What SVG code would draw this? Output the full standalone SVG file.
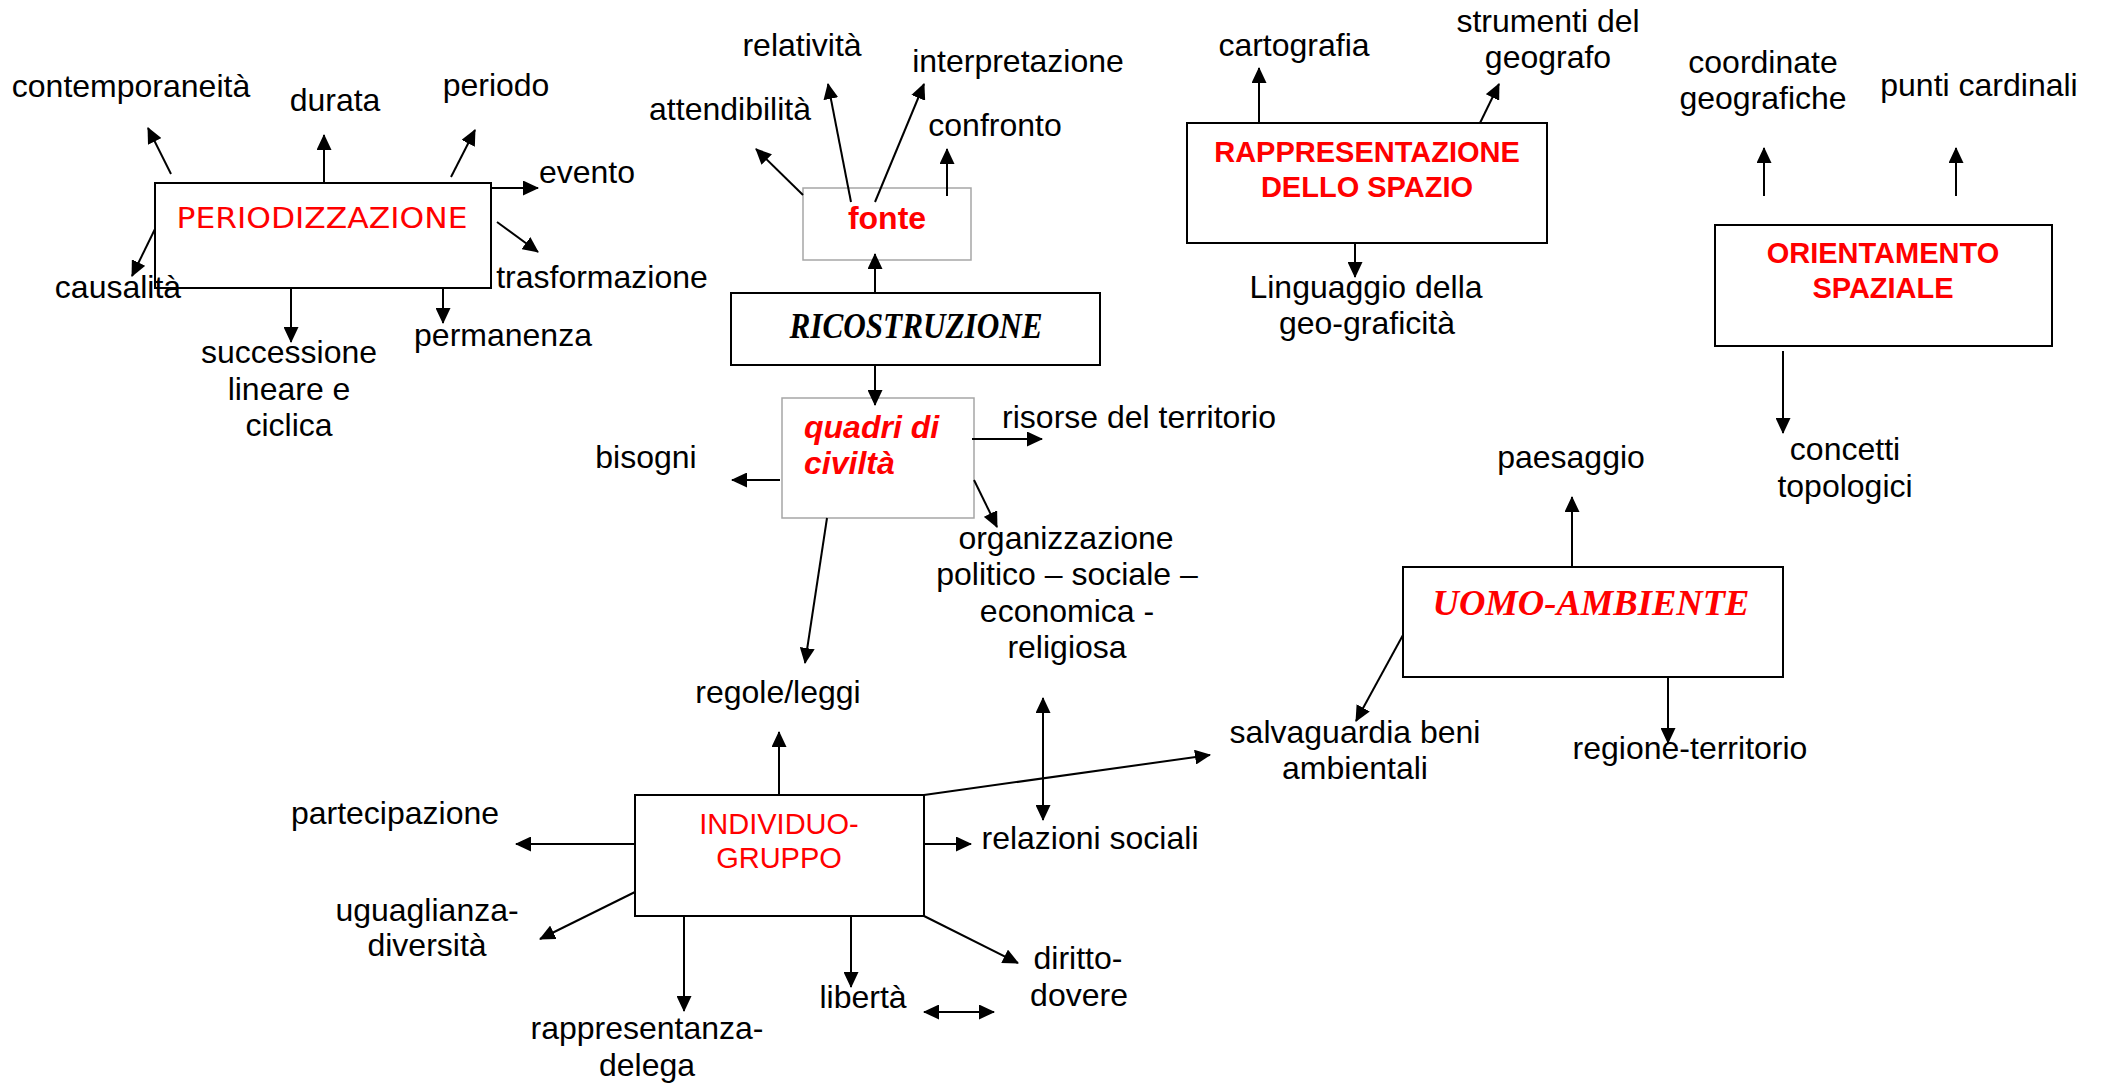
<svg xmlns="http://www.w3.org/2000/svg" width="2105" height="1085" viewBox="0 0 2105 1085">
  <style>
    .lbl { font-family: "Liberation Sans", Arial, sans-serif; font-size: 32px; fill: #000; text-anchor: middle; }
    .hd { font-family: "Liberation Sans", Arial, sans-serif; font-weight: bold; font-size: 29px; fill: #ff0000; text-anchor: middle; }
    .hd-reg { font-family: "Liberation Sans", Arial, sans-serif; font-size: 29px; fill: #ff0000; text-anchor: middle; }
    .hand { font-family: "Comic Sans MS", "DejaVu Sans", sans-serif; font-size: 29px; fill: #ff0000; text-anchor: middle; }
    .script { font-family: "Liberation Serif", "DejaVu Serif", serif; font-style: italic; font-weight: bold; font-size: 36px; text-anchor: middle; }
    .box { fill: none; stroke: #000; stroke-width: 2; }
    .box-light { fill: none; stroke: #a6a6a6; stroke-width: 1.5; }
    .conn line { stroke: #000; stroke-width: 2; marker-end: url(#head); }
    .conn line.both { marker-start: url(#head); }
  </style>
  <defs>
    <marker id="head" markerUnits="userSpaceOnUse" markerWidth="17" markerHeight="15" refX="15" refY="7.5" orient="auto-start-reverse">
      <path d="M0,0 L16,7.5 L0,15 Z" fill="#000"/>
    </marker>
  </defs>

  <rect width="2105" height="1085" fill="#fff"/>

  <!-- main concept boxes -->
  <g id="periodizzazione">
    <rect class="box" x="155" y="183" width="336" height="105"/>
    <text class="hand" x="322" y="228" textLength="291" lengthAdjust="spacingAndGlyphs">PERIODIZZAZIONE</text>
  </g>
  <g id="fonte">
    <rect class="box-light" x="803" y="188" width="168" height="72"/>
    <text class="hd" x="887" y="229" style="font-size:32px">fonte</text>
  </g>
  <g id="ricostruzione">
    <rect class="box" x="731" y="293" width="369" height="72"/>
    <text class="script" x="916" y="338" textLength="253" lengthAdjust="spacingAndGlyphs">RICOSTRUZIONE</text>
  </g>
  <g id="rappresentazione-spazio">
    <rect class="box" x="1187" y="123" width="360" height="120"/>
    <text class="hd"><tspan x="1367" y="162">RAPPRESENTAZIONE</tspan><tspan x="1367" y="197">DELLO SPAZIO</tspan></text>
  </g>
  <g id="orientamento-spaziale">
    <rect class="box" x="1715" y="225" width="337" height="121"/>
    <text class="hd"><tspan x="1883" y="263">ORIENTAMENTO</tspan><tspan x="1883" y="298">SPAZIALE</tspan></text>
  </g>
  <g id="quadri-civilta">
    <rect class="box-light" x="782" y="398" width="192" height="120"/>
    <text class="hd" style="font-size:32px;font-style:italic;text-anchor:start"><tspan x="804" y="438">quadri di</tspan><tspan x="804" y="474">civiltà</tspan></text>
  </g>
  <g id="uomo-ambiente">
    <rect class="box" x="1403" y="567" width="380" height="110"/>
    <text class="script" x="1591" y="615" fill="#ff0000" textLength="317" lengthAdjust="spacingAndGlyphs">UOMO-AMBIENTE</text>
  </g>
  <g id="individuo-gruppo">
    <rect class="box" x="635" y="795" width="289" height="121"/>
    <text class="hd-reg"><tspan x="779" y="834">INDIVIDUO-</tspan><tspan x="779" y="868">GRUPPO</tspan></text>
  </g>

  <!-- concept labels -->
  <g id="contemporaneita"><text class="lbl" x="131" y="97">contemporaneità</text></g>
  <g id="durata"><text class="lbl" x="335" y="111">durata</text></g>
  <g id="periodo"><text class="lbl" x="496" y="96">periodo</text></g>
  <g id="evento"><text class="lbl" x="587" y="183">evento</text></g>
  <g id="trasformazione"><text class="lbl" x="602" y="288">trasformazione</text></g>
  <g id="causalita"><text class="lbl" x="118" y="298">causalità</text></g>
  <g id="successione"><text class="lbl"><tspan x="289" y="363">successione</tspan><tspan x="289" y="399.5">lineare e</tspan><tspan x="289" y="436">ciclica</tspan></text></g>
  <g id="permanenza"><text class="lbl" x="503" y="346">permanenza</text></g>
  <g id="relativita"><text class="lbl" x="802" y="56">relatività</text></g>
  <g id="interpretazione"><text class="lbl" x="1018" y="72">interpretazione</text></g>
  <g id="attendibilita"><text class="lbl" x="730" y="120">attendibilità</text></g>
  <g id="confronto"><text class="lbl" x="995" y="136">confronto</text></g>
  <g id="cartografia"><text class="lbl" x="1294" y="56">cartografia</text></g>
  <g id="strumenti"><text class="lbl"><tspan x="1548" y="32">strumenti del</tspan><tspan x="1548" y="68">geografo</tspan></text></g>
  <g id="linguaggio"><text class="lbl"><tspan x="1366" y="298">Linguaggio della</tspan><tspan x="1367" y="334">geo-graficità</tspan></text></g>
  <g id="coordinate"><text class="lbl"><tspan x="1763" y="73">coordinate</tspan><tspan x="1763" y="109">geografiche</tspan></text></g>
  <g id="punti-cardinali"><text class="lbl" x="1979" y="96">punti cardinali</text></g>
  <g id="concetti-topologici"><text class="lbl"><tspan x="1845" y="460">concetti</tspan><tspan x="1845" y="497">topologici</tspan></text></g>
  <g id="paesaggio"><text class="lbl" x="1571" y="468">paesaggio</text></g>
  <g id="risorse"><text class="lbl" x="1139" y="428">risorse del territorio</text></g>
  <g id="bisogni"><text class="lbl" x="646" y="468">bisogni</text></g>
  <g id="organizzazione"><text class="lbl"><tspan x="1066" y="549">organizzazione</tspan><tspan x="1067" y="585">politico – sociale –</tspan><tspan x="1067" y="622">economica -</tspan><tspan x="1067" y="658">religiosa</tspan></text></g>
  <g id="regole-leggi"><text class="lbl" x="778" y="703">regole/leggi</text></g>
  <g id="salvaguardia"><text class="lbl"><tspan x="1355" y="743">salvaguardia beni</tspan><tspan x="1355" y="779">ambientali</tspan></text></g>
  <g id="regione-territorio"><text class="lbl" x="1690" y="759">regione-territorio</text></g>
  <g id="relazioni-sociali"><text class="lbl" x="1090" y="849">relazioni sociali</text></g>
  <g id="partecipazione"><text class="lbl" x="395" y="824">partecipazione</text></g>
  <g id="uguaglianza"><text class="lbl"><tspan x="427" y="921">uguaglianza-</tspan><tspan x="427" y="956">diversità</tspan></text></g>
  <g id="rappresentanza"><text class="lbl"><tspan x="647" y="1039">rappresentanza-</tspan><tspan x="647" y="1076">delega</tspan></text></g>
  <g id="liberta"><text class="lbl" x="863" y="1008">libertà</text></g>
  <g id="diritto-dovere"><text class="lbl"><tspan x="1078" y="969">diritto-</tspan><tspan x="1079" y="1006">dovere</tspan></text></g>

  <!-- connectors -->
  <g id="connectors" class="conn">
    <!-- periodizzazione -->
    <line x1="171" y1="174" x2="148" y2="128"/>
    <line x1="324" y1="183" x2="324" y2="135"/>
    <line x1="451" y1="177" x2="475" y2="130"/>
    <line x1="491" y1="188" x2="538" y2="188"/>
    <line x1="497" y1="222" x2="538" y2="252"/>
    <line x1="155" y1="229" x2="132" y2="276"/>
    <line x1="291" y1="288" x2="291" y2="342"/>
    <line x1="443" y1="288" x2="443" y2="323"/>
    <!-- fonte -->
    <line x1="803" y1="195" x2="756" y2="149"/>
    <line x1="851" y1="202" x2="828" y2="84"/>
    <line x1="875" y1="202" x2="924" y2="84"/>
    <line x1="947" y1="196" x2="947" y2="149"/>
    <!-- ricostruzione -->
    <line x1="875" y1="293" x2="875" y2="254"/>
    <line x1="875" y1="365" x2="875" y2="405"/>
    <!-- rappresentazione dello spazio -->
    <line x1="1259" y1="123" x2="1259" y2="68"/>
    <line x1="1480" y1="123" x2="1499" y2="84"/>
    <line x1="1355" y1="243" x2="1355" y2="277"/>
    <!-- orientamento spaziale -->
    <line x1="1764" y1="196" x2="1764" y2="148"/>
    <line x1="1956" y1="196" x2="1956" y2="148"/>
    <line x1="1783" y1="351" x2="1783" y2="433"/>
    <!-- quadri di civiltà -->
    <line x1="972" y1="439" x2="1042" y2="439"/>
    <line x1="780" y1="480" x2="732" y2="480"/>
    <line x1="974" y1="480" x2="997" y2="527"/>
    <line x1="827" y1="518" x2="805" y2="663"/>
    <!-- uomo-ambiente -->
    <line x1="1572" y1="567" x2="1572" y2="497"/>
    <line x1="1403" y1="635" x2="1356" y2="721"/>
    <line x1="1668" y1="677" x2="1668" y2="743"/>
    <!-- individuo-gruppo -->
    <line x1="779" y1="795" x2="779" y2="732"/>
    <line x1="924" y1="795" x2="1210" y2="755"/>
    <line class="both" x1="1043" y1="698" x2="1043" y2="820"/>
    <line x1="924" y1="844" x2="971" y2="844"/>
    <line x1="635" y1="844" x2="516" y2="844"/>
    <line x1="635" y1="892" x2="540" y2="939"/>
    <line x1="684" y1="916" x2="684" y2="1011"/>
    <line x1="851" y1="916" x2="851" y2="987"/>
    <line x1="924" y1="916" x2="1018" y2="963"/>
    <line class="both" x1="924" y1="1012" x2="994" y2="1012"/>
  </g>
</svg>
